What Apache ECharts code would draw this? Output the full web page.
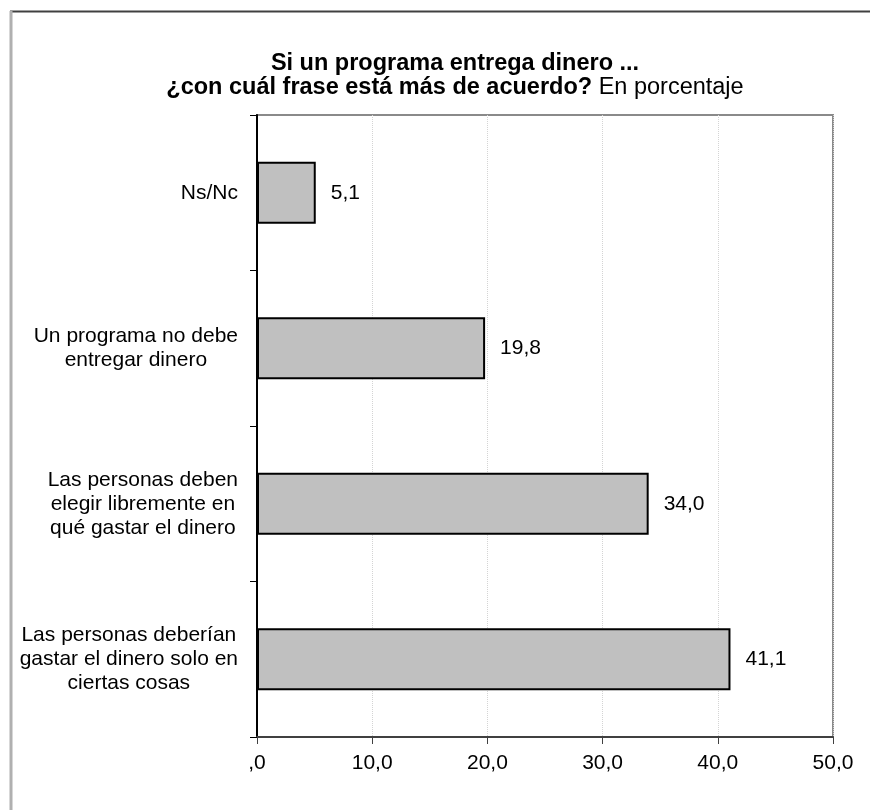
<!DOCTYPE html>
<html>
<head>
<meta charset="utf-8">
<script src="https://cdn.jsdelivr.net/npm/echarts@6/dist/echarts.min.js"></script>
<style>
  html, body { margin: 0; padding: 0; background: #fff; }
  #chart { width: 870px; height: 810px; }
</style>
</head>
<body>
<div id="chart"></div>
<script>
// Answer options, listed from bottom to top of the chart
const categories = [
  'Las personas deberían\ngastar el dinero solo en\nciertas cosas',
  'Las personas deben\nelegir libremente en\nqué gastar el dinero',
  'Un programa no debe\nentregar dinero',
  'Ns/Nc'
];
// Share of respondents, in percent
const values = [41.1, 34.0, 19.8, 5.1];
// Value axis ticks
const axisMin = 0;
const axisMax = 50;
const axisStep = 10;

function fmtNum(v) {
  if (v === 0) return ',0';
  return v.toFixed(1).replace('.', ',');
}

// Category text: block sits right of the axis gap, lines centred within it
function fmtCategory(s) {
  return s.split('\n').map(line => '{c|' + line + '}').join('\n');
}

const font = 'Liberation Sans, Arial, sans-serif';
const chart = echarts.init(document.getElementById('chart'), null, { renderer: 'canvas' });

chart.setOption({
  backgroundColor: '#fff',
  animation: false,
  title: {
    text: '{b|Si un programa entrega dinero ...}\n{b|¿con cuál frase está más de acuerdo?}{n| En porcentaje}',
    left: 450,
    textAlign: 'center',
    top: 47,
    textStyle: {
      rich: {
        b: { fontFamily: font, fontSize: 23.5, fontWeight: 'bold', color: '#000', lineHeight: 24 },
        n: { fontFamily: font, fontSize: 23.5, fontWeight: 'normal', color: '#000', lineHeight: 24 }
      }
    }
  },
  graphic: [
    { type: 'line', shape: { x1: 10, y1: 11.5, x2: 870, y2: 11.5 }, style: { stroke: '#404040', lineWidth: 2 } },
    { type: 'line', shape: { x1: 11, y1: 11, x2: 11, y2: 810 }, style: { stroke: '#b0b0b0', lineWidth: 3 } }
  ],
  grid: {
    left: 257, right: 37, top: 115, bottom: 73,
    show: true,
    borderColor: '#8a8a8a',
    borderWidth: 2,
    backgroundColor: '#fff'
  },
  xAxis: {
    type: 'value',
    min: axisMin,
    max: axisMax,
    interval: axisStep,
    axisLine: { show: true, lineStyle: { color: '#404040', width: 2 } },
    axisTick: { show: true, length: 7, lineStyle: { color: '#404040', width: 1 } },
    axisLabel: {
      formatter: fmtNum,
      fontFamily: font, fontSize: 21, color: '#000', margin: 16
    },
    splitLine: { show: true, lineStyle: { color: '#d4d4d4', type: 'dotted', width: 1 } }
  },
  yAxis: {
    type: 'category',
    data: categories,
    axisLine: { show: true, onZero: false, lineStyle: { color: '#000', width: 2 } },
    axisTick: { show: true, length: 7, lineStyle: { color: '#000', width: 1 } },
    axisLabel: {
      formatter: fmtCategory,
      fontFamily: font, fontSize: 21, color: '#000', margin: 19, lineHeight: 24, align: 'right',
      rich: {
        c: { fontFamily: font, fontSize: 21, color: '#000', lineHeight: 24, align: 'center' }
      }
    },
    splitLine: { show: false }
  },
  series: [{
    type: 'bar',
    data: values,
    barWidth: 62,
    itemStyle: { color: '#c0c0c0', borderColor: '#000', borderWidth: 2 },
    label: {
      show: true,
      position: 'right',
      distance: 15,
      formatter: p => fmtNum(p.value),
      fontFamily: font, fontSize: 21, color: '#000'
    }
  }]
});
</script>
</body>
</html>
